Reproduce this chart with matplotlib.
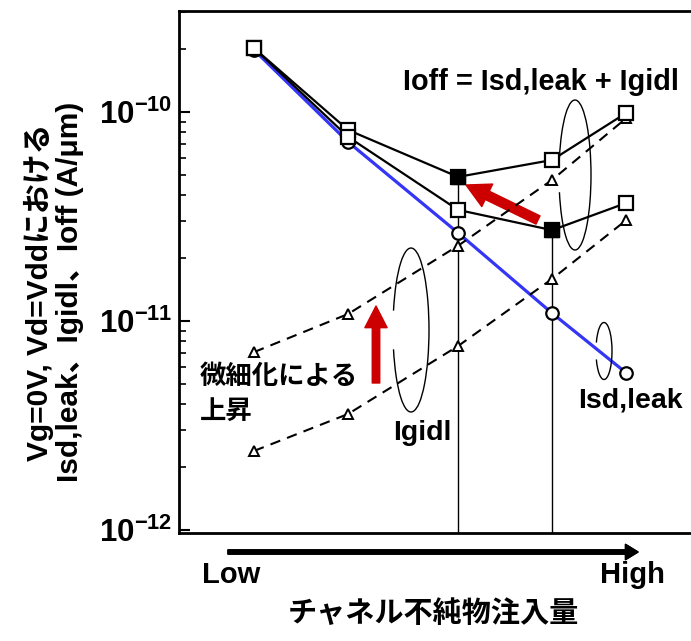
import numpy as np
import matplotlib
matplotlib.use("Agg")
import matplotlib.pyplot as plt
from matplotlib.patches import Arc
from matplotlib.ticker import LogLocator, FixedLocator, NullFormatter, FuncFormatter

plt.rcParams['font.family'] = ['Liberation Sans', 'Noto Sans CJK JP']
plt.rcParams['font.weight'] = 'bold'
plt.rcParams['mathtext.fontset'] = 'custom'
plt.rcParams['mathtext.rm'] = 'Liberation Sans:bold'
plt.rcParams['mathtext.bf'] = 'Liberation Sans:bold'
plt.rcParams['mathtext.it'] = 'Liberation Sans:bold'

# ---------------- data ----------------
doping = [1.0, 2.0, 3.17, 4.17, 4.96]          # relative channel doping (Low -> High)
isd_leak = [1.98e-10, 7.19e-11, 2.64e-11, 1.09e-11, 5.64e-12]
igidl_scaled = [7.1e-12, 1.08e-11, 2.29e-11, 4.73e-11, 9.35e-11]
igidl_base = [2.39e-12, 3.59e-12, 7.59e-12, 1.59e-11, 3.04e-11]
ioff_scaled = [2.02e-10, 8.2e-11, 4.89e-11, 5.89e-11, 9.9e-11]
ioff_base = [2.02e-10, 7.6e-11, 3.40e-11, 2.72e-11, 3.67e-11]
ytick_vals = [1e-12, 1e-11, 1e-10]

W, H = 691, 641
fig = plt.figure(figsize=(W / 100, H / 100), dpi=100)


def fx(px):
    return px / W


def fy(py):
    return 1 - py / H


ax_l, ax_t, ax_b, ax_r = 179, 11, 533, 695
ax = fig.add_axes([fx(ax_l), fy(ax_b), (ax_r - ax_l) / W, (ax_b - ax_t) / H])
ax.set_yscale('log')
ax.set_xlim(0.202, 5.69)
ax.set_ylim(0.968e-12, 3.04e-10)

# blue Isd,leak
ax.plot(doping, isd_leak, color='#3535F5', lw=2.3, zorder=3)
ax.plot(doping, isd_leak, ls='none', marker='o', ms=9, mfc='white', mec='black', mew=1.6, zorder=4.5)

# Igidl dashed
for s in (igidl_scaled, igidl_base):
    ax.plot(doping, s, color='black', lw=1.5, ls=(0, (5, 3.5)), marker='^', ms=7.5,
            mfc='white', mec='black', mew=1.4, zorder=4)

# Ioff solid with squares
for s in (ioff_scaled, ioff_base):
    ax.plot(doping, s, color='black', lw=1.6, marker='s', ms=9.5, mfc='white', mec='black',
            mew=1.6, zorder=5)
    i = int(np.argmin(s))
    ax.plot([doping[i]], [s[i]], ls='none', marker='s', ms=9.5, mfc='black', mec='black', zorder=7)
    ax.vlines(doping[i], ax.get_ylim()[0], s[i], color='black', lw=1.0, zorder=2)

# axes styling
for side in ('left', 'bottom', 'top'):
    ax.spines[side].set_linewidth(2.0)
ax.spines['right'].set_visible(False)
ax.set_xticks([])
ax.yaxis.set_major_locator(FixedLocator(ytick_vals))
ax.yaxis.set_minor_locator(LogLocator(base=10, subs=np.arange(2, 10)))
ax.yaxis.set_minor_formatter(NullFormatter())
ax.yaxis.set_major_formatter(FuncFormatter(lambda v, p: r'$\mathbf{10^{%d}}$' % int(round(np.log10(v)))))
ax.tick_params(axis='y', which='major', direction='in', length=8, width=1.5, labelsize=22.5, pad=5)
ax.tick_params(axis='y', which='minor', direction='in', length=5, width=1.2)

# ellipses (open on the left)
for cx, cy, w, h in ((575, 175, 32, 150), (411, 330, 36, 164), (604, 351, 16, 57)):
    fig.patches.append(Arc((fx(cx), fy(cy)), w / W, h / H, theta1=-130, theta2=130,
                           transform=fig.transFigure, color='black', lw=1.0))

# red arrows
red = '#CC0000'
ax.annotate('', xy=(fx(466), fy(185)), xycoords='figure fraction',
            xytext=(fx(538), fy(220)), textcoords='figure fraction',
            arrowprops=dict(arrowstyle='simple,head_length=0.85,head_width=0.9,tail_width=0.33',
                            mutation_scale=20, color=red, shrinkA=0, shrinkB=0))
ax.annotate('', xy=(fx(376), fy(306)), xycoords='figure fraction',
            xytext=(fx(376), fy(383)), textcoords='figure fraction',
            arrowprops=dict(arrowstyle='simple,head_length=0.78,head_width=0.8,tail_width=0.27',
                            mutation_scale=20, color=red, shrinkA=0, shrinkB=0))

# bottom Low -> High arrow
fig.add_artist(plt.annotate('', xy=(fx(638), fy(552)), xycoords='figure fraction',
                            xytext=(fx(228), fy(552)), textcoords='figure fraction',
                            arrowprops=dict(arrowstyle='simple,head_length=0.9,head_width=1.1,tail_width=0.3',
                                            mutation_scale=10, color='black', shrinkA=0, shrinkB=0)))

# texts
fs = 20.5
fig.text(fx(541), fy(82), 'Ioff = Isd,leak + Igidl', fontsize=20.8, ha='center', va='center')
fig.text(fx(200), fy(377), '微細化による', fontsize=19, ha='left', va='center')
fig.text(fx(200), fy(412), '上昇', fontsize=19, ha='left', va='center')
fig.text(fx(393), fy(433), 'Igidl', fontsize=fs, ha='left', va='center')
fig.text(fx(578), fy(400), 'Isd,leak', fontsize=fs, ha='left', va='center')
fig.text(fx(202), fy(575), 'Low', fontsize=21, ha='left', va='center')
fig.text(fx(665), fy(575), 'High', fontsize=21, ha='right', va='center')
fig.text(fx(433), fy(614), 'チャネル不純物注入量', fontsize=21, ha='center', va='center')
fig.text(fx(54), fy(292), 'Vg=0V, Vd=Vddにおける\nIsd,leak、Igidl、Ioff (A/μm)', fontsize=21.5,
         rotation=90, ha='center', va='center', multialignment='center', linespacing=1.1)

fig.savefig('out.png', dpi=100)
